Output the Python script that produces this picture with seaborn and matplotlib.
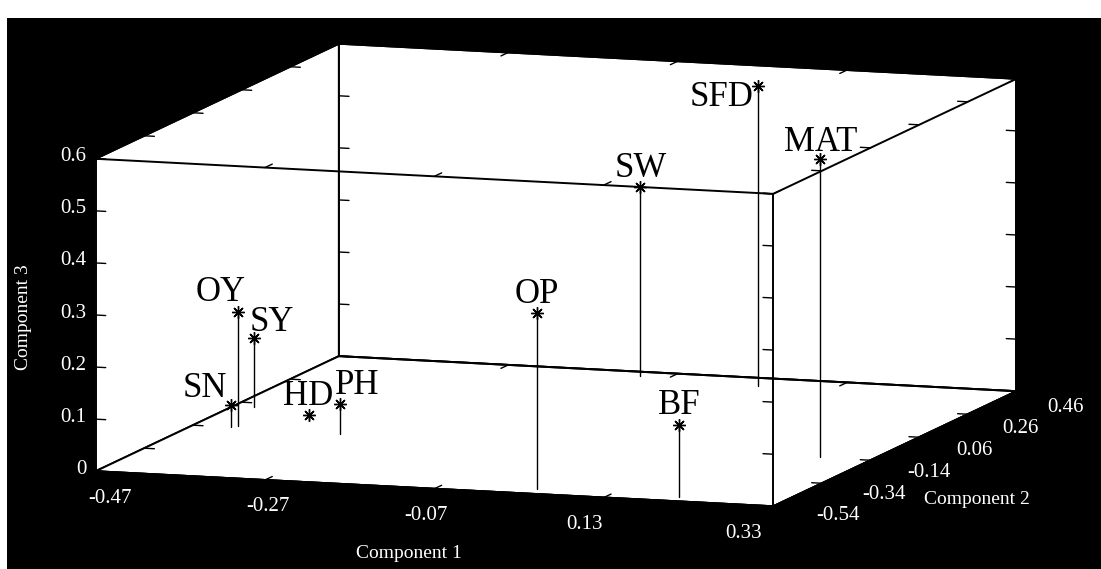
import numpy as np
import matplotlib
matplotlib.use("Agg")
import matplotlib.pyplot as plt
from matplotlib.patches import Rectangle
from mpl_toolkits.mplot3d import proj3d
import seaborn as sns

# ---------------- data ----------------
labels = ["OY", "SY", "SN", "HD", "PH", "OP", "SW", "SFD", "MAT", "BF"]
comp1 = [-0.420, -0.446, -0.425, -0.358, -0.293, 0.040, -0.104, 0.044, 0.270, 0.210]
comp2 = [-0.130, 0.026, -0.140, -0.054, -0.150, -0.500, 0.425, 0.395, -0.137, -0.508]
comp3 = [0.219, 0.133, 0.042, 0.010, 0.058, 0.337, 0.363, 0.577, 0.573, 0.138]

x_ticks = [-0.47, -0.27, -0.07, 0.13, 0.33]
x_tick_labels = ["-0.47", "-0.27", "-0.07", "0.13", "0.33"]
y_ticks = [-0.54, -0.34, -0.14, 0.06, 0.26, 0.46]
y_tick_labels = ["-0.54", "-0.34", "-0.14", "0.06", "0.26", "0.46"]
z_ticks = [0.0, 0.1, 0.2, 0.3, 0.4, 0.5, 0.6]
z_tick_labels = ["0", "0.1", "0.2", "0.3", "0.4", "0.5", "0.6"]

x_title = "Component 1"
y_title = "Component 2"
z_title = "Component 3"

# label offsets from marker (pixels: right, up) -- styling only
label_offsets = {
    "OY": (-17, 11), "SY": (18, 7), "SN": (-26, 8), "HD": (-1, 10),
    "PH": (17, 10), "OP": (0, 10), "SW": (0, 10), "SFD": (-37, -20),
    "MAT": (0, 8), "BF": (0, 11),
}

# ---------------- style ----------------
sns.set_style("white")
plt.rcParams["font.family"] = ["Liberation Serif", "DejaVu Serif"]

W_PX, H_PX = 1101, 569
fig = plt.figure(figsize=(W_PX / 100, H_PX / 100), dpi=100, facecolor="white")
# scanned black frame
fig.patches.append(Rectangle((7 / W_PX, 0), 1 - 7 / W_PX, (H_PX - 18) / H_PX,
                             transform=fig.transFigure, facecolor="black",
                             edgecolor="none", zorder=-10))

ax = fig.add_axes([0, 0, 1, 1], projection="3d", proj_type="ortho")
ax.set_facecolor((0, 0, 0, 0))
ax.view_init(elev=9.0, azim=-71.7, roll=0)
ax.set_box_aspect((713, 774, 316))

xlim = (x_ticks[0], x_ticks[-1])
ylim = (y_ticks[0], y_ticks[-1])
zlim = (z_ticks[0], z_ticks[-1])
ax.set_xlim(*xlim)
ax.set_ylim(*ylim)
ax.set_zlim(*zlim)
ax.grid(False)

for axis in (ax.xaxis, ax.yaxis, ax.zaxis):
    axis.set_pane_color((1, 1, 1, 1))
    axis.pane.set_edgecolor("black")
    axis.pane.set_linewidth(1.4)
    axis.line.set_color("black")
    axis.line.set_linewidth(1.4)
    axis.set_ticks([])
    axis.label.set_visible(False)
    axis.offsetText.set_visible(False)

x0, x1 = xlim
y0, y1 = ylim
z0, z1 = zlim
LW = 1.4

# box edges
edge_kw = dict(color="black", lw=LW)
for ey, ez in [(y0, z0), (y1, z0), (y0, z1), (y1, z1)]:
    ax.plot([x0, x1], [ey, ey], [ez, ez], **edge_kw)
for ex, ez in [(x0, z0), (x1, z0), (x0, z1), (x1, z1)]:
    ax.plot([ex, ex], [y0, y1], [ez, ez], **edge_kw)
for ex, ey in [(x0, y0), (x1, y0), (x0, y1), (x1, y1)]:
    ax.plot([ex, ex], [ey, ey], [z0, z1], **edge_kw)

# inward tick marks on box edges (MATLAB style)
tick_kw = dict(color="black", lw=1.0)
tlx = 0.012 * (x1 - x0) / 0.8
tly = 0.03 * (y1 - y0)
for ex, sgn in [(x0, 1), (x1, -1)]:
    for ey in (y0, y1):
        for zt in z_ticks:
            ax.plot([ex, ex + sgn * tlx], [ey, ey], [zt, zt], **tick_kw)
    for ez in (z0, z1):
        for yt in y_ticks:
            ax.plot([ex, ex + sgn * tlx], [yt, yt], [ez, ez], **tick_kw)
for ey, sgn in [(y0, 1), (y1, -1)]:
    for ez in (z0, z1):
        for xt in x_ticks:
            ax.plot([xt, xt], [ey, ey + sgn * tly], [ez, ez], **tick_kw)

# stems
for x, y, z in zip(comp1, comp2, comp3):
    ax.plot([x, x], [y, y], [0, z], color="black", lw=1.0)
# markers
ax.plot(comp1, comp2, comp3, linestyle="none", marker=(8, 2, 0), ms=9,
        mec="black", mew=1.0, color="black")

# ---- fit the projected box into the target area of the frame ----
cx = [x0, x1, x0, x1, x0, x1, x0, x1]
cy = [y0, y0, y1, y1, y0, y0, y1, y1]
cz = [z0, z0, z0, z0, z1, z1, z1, z1]


def to_px(xs, ys, zs):
    px, py, _ = proj3d.proj_transform(np.asarray(xs, float), np.asarray(ys, float),
                                      np.asarray(zs, float), ax.get_proj())
    return ax.transData.transform(np.column_stack([px, py]))


tL, tR, tB, tT = 97, 1015, H_PX - 507, H_PX - 43
for _ in range(2):
    fig.canvas.draw()
    pts = to_px(cx, cy, cz)
    L, R = pts[:, 0].min(), pts[:, 0].max()
    B, T = pts[:, 1].min(), pts[:, 1].max()
    pos = ax.get_position()
    S = pos.width * W_PX
    Cx = (pos.x0 + pos.width / 2) * W_PX
    Cy = (pos.y0 + pos.height / 2) * H_PX
    s = ((tR - tL) / (R - L) + (tT - tB) / (T - B)) / 2
    nCx = (tL + tR) / 2 - s * ((L + R) / 2 - Cx)
    nCy = (tB + tT) / 2 - s * ((B + T) / 2 - Cy)
    nS = s * S
    ax.set_position([(nCx - nS / 2) / W_PX, (nCy - nS / 2) / H_PX,
                     nS / W_PX, nS / H_PX])
fig.canvas.draw()


def put(px, py, text, **kw):
    fig.text(px / W_PX, py / H_PX, text, **kw)


# point labels (projected through the 3D axes)
lab_px = to_px(comp1, comp2, comp3)
for lab, (px, py) in zip(labels, lab_px):
    dx, dy = label_offsets[lab]
    put(px + dx, py + dy, lab, ha="center", va="baseline", fontsize=25,
        color="black")

# tick labels
tick_txt = dict(color="white", fontsize=15)
xt_px = to_px(x_ticks, [y0] * len(x_ticks), [z0] * len(x_ticks))
for k, ((px, py), lab) in enumerate(zip(xt_px, x_tick_labels)):
    put(px + 14 - 11 * k, py - 27, lab, ha="center", va="center", **tick_txt)
yt_px = to_px([x1] * len(y_ticks), y_ticks, [z0] * len(y_ticks))
for k, ((px, py), lab) in enumerate(zip(yt_px, y_tick_labels)):
    put(px + 65 - 3.2 * k, py - (9.5 + 1.3 * k), lab, ha="center", va="center",
        **tick_txt)
zt_px = to_px([x0] * len(z_ticks), [y0] * len(z_ticks), z_ticks)
for (px, py), lab in zip(zt_px, z_tick_labels):
    put(px - 9, py + 2, lab, ha="right", va="center", **tick_txt)

# axis titles
fig.text(409 / W_PX, 1 - 553 / H_PX, x_title, color="white", fontsize=14,
         ha="center", va="center")
fig.text(977 / W_PX, 1 - 500 / H_PX, y_title, color="white", fontsize=14,
         ha="center", va="center")
fig.text(24 / W_PX, 1 - 317 / H_PX, z_title, color="white", fontsize=14,
         ha="center", va="center", rotation=90)

fig.savefig("out.png", dpi=100, facecolor=fig.get_facecolor())
